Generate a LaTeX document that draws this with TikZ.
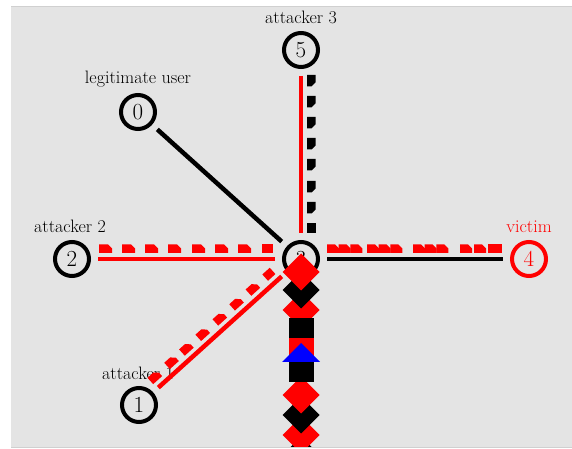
\documentclass[tikz,border=0pt]{standalone}
\definecolor{bg}{RGB}{228,228,228}
\definecolor{bgedge}{RGB}{208,208,208}
\definecolor{nred}{RGB}{255,0,0}
\definecolor{nblue}{RGB}{0,0,255}
\newcommand\pktarrow[2]{\fill (#1,6) -- ++(0,8.5) -- ++({#2-4},0) -- ++(4,-4) -- ++(0,-4.5) -- cycle;}
\newcommand\pktrect[2]{\fill (#1,6) rectangle ++(#2,8.5);}
\newcommand\dropdiamond[2]{\fill[#1] (301,#2) ++(0,18.5) -- ++(18.5,-18.5) -- ++(-18.5,-18.5) -- ++(-18.5,18.5) -- cycle;}
\tikzset{
  netnode/.style={circle, draw=black, line width=4pt, fill=bg, minimum size=34pt,
    inner sep=0pt, font=\fontsize{23}{23}\selectfont},
  victimnode/.style={netnode, draw=nred, text=nred},
  lbl/.style={font=\fontsize{18}{20}\selectfont, inner sep=0pt, anchor=base},
  netlink/.style={line width=4.5pt, shorten >=7pt, shorten <=7pt},
}
\begin{document}
\begin{tikzpicture}[x=1pt,y=1pt]
\useasboundingbox (0,0) rectangle (572,449);
\fill[bg] (11,2) rectangle (572,442);
\draw[bgedge, line width=1pt] (11,442) -- (572,442);
\draw[bgedge, line width=0.6pt] (11,2) -- (572,2);

% nodes
\node[netnode] (n0) at (138,337) {0};
\node[netnode] (n5) at (301,399) {5};
\node[netnode] (n2) at (72,190) {2};
\node[netnode] (n3) at (301,190) {3};
\node[victimnode] (n4) at (529,190) {4};
\node[netnode] (n1) at (139,44) {1};

% labels
\node[lbl] (l0) at (138,365) {legitimate user};
\node[lbl] (l5) at (301,425) {attacker 3};
\node[lbl] (l2) at (70,216) {attacker 2};
\node[lbl, text=nred] (l4) at (529,216) {victim};
\node[lbl] (l1) at (138,69) {attacker 1};

% links
\draw[netlink, black] (n0) -- (n3);
\draw[netlink, nred] (n5) -- (n3);
\draw[netlink, nred] (n2) -- (n3);
\draw[netlink, nred] (n1) -- (n3);
\draw[netlink, black] (n3) -- (n4);

% packets on link 5 -> 3
\begin{scope}[shift={(n5.center)}, rotate=-90, fill=black]
  \foreach \s in {25,46,67,88,109,131,152} {\pktarrow{\s}{11.5}}
  \pktrect{173}{10}
\end{scope}
% packets on link 2 -> 3
\begin{scope}[shift={(n2.center)}, fill=nred]
  \foreach \s in {27,50,73,96,120,143,166} {\pktarrow{\s}{13}}
  \pktrect{190}{11}
\end{scope}
% packets on link 1 -> 3
\begin{scope}[shift={(n1.center)}, rotate=42, fill=nred]
  \foreach \s in {24.5,47,67,89,112,134.5,156.5} {\pktarrow{\s}{12}}
  \pktrect{179}{10}
\end{scope}
% packets on link 3 -> 4
\begin{scope}[shift={(n3.center)}, fill=nred]
  \foreach \s in {26,37.7,49.3,66,77.7,89.3,112,123.7,135.3,159,173} {\pktarrow{\s}{12}}
  \pktrect{187}{14}
\end{scope}

% dropped packets and queue below node 3
\begin{scope}
  \clip (11,2) rectangle (572,442);
  \dropdiamond{black}{-6}
  \dropdiamond{nred}{14}
  \dropdiamond{black}{34}
  \dropdiamond{nred}{54}
  \dropdiamond{nred}{139}
  \dropdiamond{black}{159}
  \dropdiamond{nred}{177}
  \fill[black] (288.5,67) rectangle (313.5,90);
  \fill[nred] (288.5,90) rectangle (313.5,111);
  \fill[black] (288.5,111) rectangle (313.5,131);
  \fill[nblue] (282,87) -- (320,87) -- (301,106) -- cycle;
\end{scope}
\end{tikzpicture}
\end{document}
